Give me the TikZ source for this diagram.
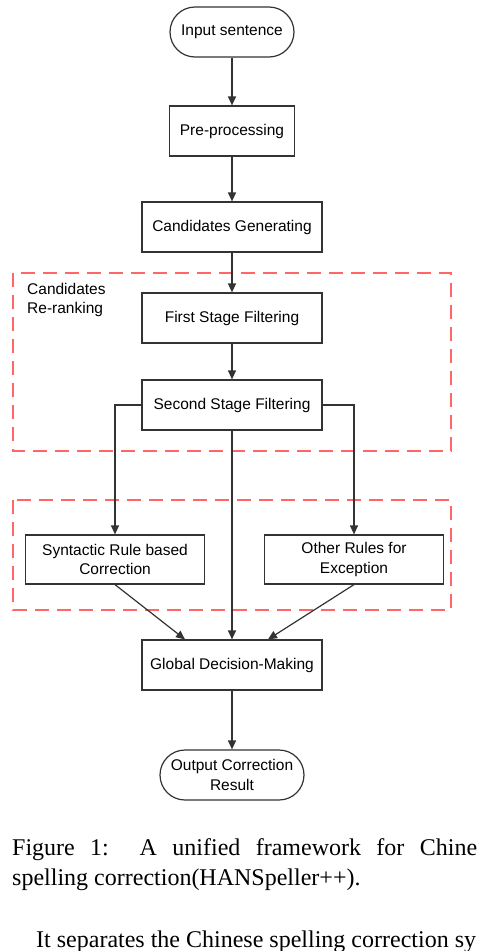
\documentclass[tikz,border=0pt]{standalone}
\usepackage{fontspec}
\setmainfont{Liberation Serif}
\newfontfamily\flowfont{Liberation Sans}
\usetikzlibrary{arrows.meta}

\tikzset{
    block/.style={draw=black!80, line width=1.2pt, minimum width=180pt, minimum height=50pt,
        align=center, font=\flowfont\fontsize{15.5}{19.5}\selectfont},
    term/.style={block, rounded corners=25pt},
    region/.style={draw=red!60, line width=1.4pt, dash pattern=on 14pt off 8pt},
    flow/.style={draw=black!80, line width=1.2pt, -{Triangle[length=9pt,width=8pt]}},
    captext/.style={anchor=base west, inner sep=0pt, font=\fontsize{24}{29}\selectfont}
}

\begin{document}
\begin{tikzpicture}[x=1pt,y=-1pt]
    \useasboundingbox (0,0) rectangle (477,951);

    % main column
    \node[term, minimum width=124pt] (input) at (232,32) {Input sentence};
    \node[block, minimum width=125pt] (pre) at (232,131) {Pre-processing};
    \node[block] (gen) at (232,227) {Candidates Generating};
    \node[block] (first) at (232,318) {First Stage Filtering};
    \node[block] (second) at (232,405) {Second Stage Filtering};
    \node[block, minimum width=179pt, minimum height=49pt] (syn) at (115,559.5) {Syntactic Rule based\\Correction};
    \node[block, minimum width=179pt, minimum height=49pt] (other) at (354,559.5) {Other Rules for\\Exception};
    \node[block] (global) at (232,665) {Global Decision-Making};
    \node[term, minimum width=144pt] (output) at (232,775) {Output Correction\\Result};

    % dashed groups
    \draw[region] (13,273) rectangle (451,451);
    \draw[region] (13,500) rectangle (451,610);
    \node[anchor=north west, align=left, inner sep=0pt, font=\flowfont\fontsize{15.5}{19}\selectfont] (rerank) at (27,283) {Candidates\\Re-ranking};

    % arrows
    \draw[flow] (input) -- (pre);
    \draw[flow] (pre) -- (gen);
    \draw[flow] (gen) -- (first);
    \draw[flow] (first) -- (second);
    \draw[flow] (second.west) -| (syn.north);
    \draw[flow] (second.east) -| (other.north);
    \draw[flow] (second) -- (global);
    \draw[flow] (syn.south) -- ([xshift=-47pt]global.north);
    \draw[flow] (other.south) -- ([xshift=36pt]global.north);
    \draw[flow] (global) -- (output);

    % caption and text
    \node[captext] (cap1) at (12,855) {\makebox[465pt][s]{Figure 1:\ \ A unified framework for Chine}};
    \node[captext] (cap2) at (12,885) {spelling correction(HANSpeller++).};
    \node[captext] (body) at (36,947) {It separates the Chinese spelling correction sy};
\end{tikzpicture}
\end{document}
